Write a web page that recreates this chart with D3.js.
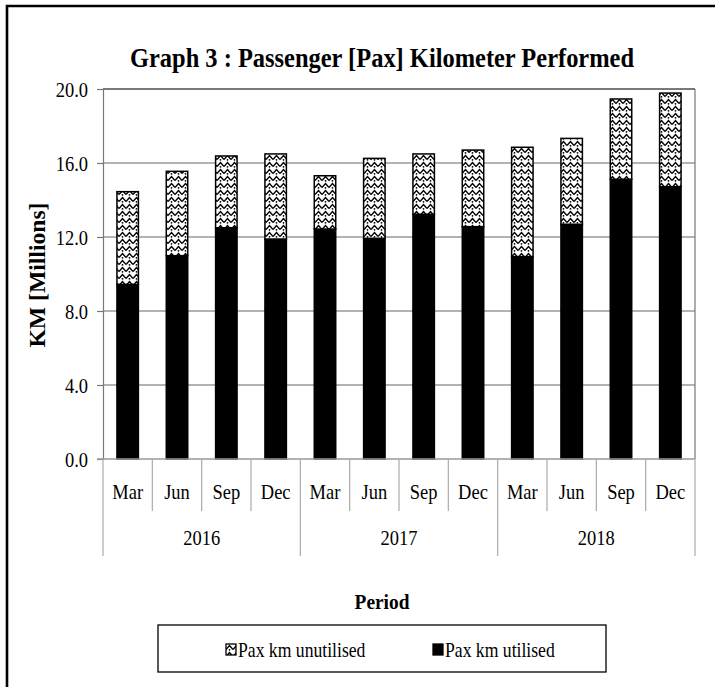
<!DOCTYPE html>
<html>
<head>
<meta charset="utf-8">
<script src="https://cdn.jsdelivr.net/npm/d3@7"></script>
<style>
  html, body { margin: 0; padding: 0; background: #fff; }
  svg { display: block; }
  text { font-family: "Liberation Serif", "Times New Roman", serif; fill: #000; }
</style>
</head>
<body>
<svg id="chart" width="715" height="687"></svg>
<script>
// ---- data ----
const months = ["Mar", "Jun", "Sep", "Dec", "Mar", "Jun", "Sep", "Dec", "Mar", "Jun", "Sep", "Dec"];
const years = ["2016", "2017", "2018"];
const paxUtilised = [9.44, 10.99, 12.50, 11.89, 12.43, 11.93, 13.23, 12.56, 10.94, 12.69, 15.12, 14.72];
const paxUnutilised = [5.01, 4.56, 3.88, 4.60, 2.88, 4.32, 3.26, 4.14, 5.91, 4.64, 4.34, 5.06];
const yTicks = [0, 4, 8, 12, 16, 20];
const seriesNames = ["Pax km utilised", "Pax km unutilised"];
const titleText = "Graph 3 : Passenger [Pax] Kilometer Performed";
const yTitle = "KM  [Millions]";
const xTitle = "Period";

// ---- layout ----
const svg = d3.select("#chart");
const W = 715, H = 687;
const plot = { left: 103, right: 695, top: 89, bottom: 459 };

// horizontal compression helper (reference uses a tall, narrow Times face)
function compress(sel, c) {
  sel.each(function () {
    const len = this.getComputedTextLength();
    d3.select(this).attr("textLength", len * c).attr("lengthAdjust", "spacingAndGlyphs");
  });
}

const rows = months.map((m, i) => ({ idx: i, month: m, year: years[Math.floor(i / 4)], utilised: paxUtilised[i], unutilised: paxUnutilised[i] }));

const x = d3.scaleBand().domain(rows.map(d => d.idx)).range([plot.left, plot.right]).paddingInner(0.565).paddingOuter(0.2825);
const y = d3.scaleLinear().domain([0, 20]).range([plot.bottom, plot.top]);

// pattern
const defs = svg.append("defs");
const pat = defs.append("pattern").attr("id", "wave").attr("patternUnits", "userSpaceOnUse")
  .attr("width", 7).attr("height", 7);
pat.append("rect").attr("width", 7).attr("height", 7).attr("fill", "#fff");
pat.append("path").attr("d", "M0,5.5 L3.5,1.5 L7,5.5").attr("fill", "none").attr("stroke", "#000").attr("stroke-width", 1.4);
pat.append("circle").attr("cx", 3.5).attr("cy", 5.8).attr("r", 0.9).attr("fill", "#000");

// outer frame (left & top visible)
svg.append("path").attr("d", `M7,${H} L7,6 L${W},6`).attr("fill", "none").attr("stroke", "#000").attr("stroke-width", 2.6);

// title
svg.append("text").attr("x", 382).attr("y", 67).attr("text-anchor", "middle")
  .attr("font-size", 28).attr("font-weight", "bold").text(titleText)
  .attr("textLength", 504).attr("lengthAdjust", "spacingAndGlyphs");

// gridlines
svg.append("g").selectAll("line").data(yTicks.filter(t => t > 0)).join("line")
  .attr("x1", plot.left).attr("x2", plot.right)
  .attr("y1", d => y(d)).attr("y2", d => y(d))
  .attr("stroke", "#9a9a9a").attr("stroke-width", 1.5);

// plot border right / top
svg.append("line").attr("x1", plot.right).attr("x2", plot.right).attr("y1", plot.top).attr("y2", plot.bottom)
  .attr("stroke", "#777").attr("stroke-width", 1.2);
svg.append("line").attr("x1", plot.left).attr("x2", plot.right).attr("y1", plot.top).attr("y2", plot.top)
  .attr("stroke", "#666").attr("stroke-width", 1.3);

// stacked bars
const stack = d3.stack().keys(["utilised", "unutilised"]);
const stacked = stack(rows);
const fills = { utilised: "#000", unutilised: "url(#wave)" };
svg.append("g").selectAll("g").data(stacked).join("g")
  .attr("fill", d => fills[d.key])
  .selectAll("rect").data(d => d).join("rect")
  .attr("x", d => x(d.data.idx))
  .attr("width", x.bandwidth())
  .attr("y", d => y(d[1]))
  .attr("height", d => y(d[0]) - y(d[1]))
  .attr("stroke", "#000").attr("stroke-width", 1.5);

// y axis
const yAxis = d3.axisLeft(y).tickValues(yTicks).tickFormat(d3.format(".1f")).tickSize(6).tickPadding(9);
const gy = svg.append("g").attr("transform", `translate(${plot.left},0)`).call(yAxis);
gy.select(".domain").attr("stroke", "#777").attr("stroke-width", 1.2);
gy.selectAll(".tick line").attr("stroke", "#777").attr("stroke-width", 1.2);
gy.selectAll(".tick text").attr("font-family", "Liberation Serif, serif").attr("font-size", 22).attr("fill", "#000")
  .call(compress, 0.84);

// bottom axis line
svg.append("line").attr("x1", plot.left - 6).attr("x2", plot.right).attr("y1", plot.bottom).attr("y2", plot.bottom)
  .attr("stroke", "#999").attr("stroke-width", 1.5);

// category separators
const step = x.step();
const x0 = plot.left;
svg.append("g").selectAll("line").data(d3.range(13)).join("line")
  .attr("x1", i => x0 + i * step).attr("x2", i => x0 + i * step)
  .attr("y1", plot.bottom).attr("y2", i => (i % 4 === 0 ? 556 : 511))
  .attr("stroke", "#aaa").attr("stroke-width", 1.2);

// month labels
svg.append("g").selectAll("text").data(rows).join("text")
  .attr("x", d => x(d.idx) + x.bandwidth() / 2).attr("y", 499)
  .attr("text-anchor", "middle").attr("font-size", 22).text(d => d.month)
  .call(compress, 0.84);

// year labels
svg.append("g").selectAll("text").data(years).join("text")
  .attr("x", (d, i) => x0 + (i * 4 + 2) * step).attr("y", 545)
  .attr("text-anchor", "middle").attr("font-size", 22).text(d => d)
  .call(compress, 0.84);

// y title
svg.append("text").attr("transform", "translate(45,275) rotate(-90)")
  .attr("text-anchor", "middle").attr("font-size", 23).attr("font-weight", "bold").text(yTitle)
  .attr("textLength", 145).attr("lengthAdjust", "spacingAndGlyphs");

// x title
svg.append("text").attr("x", 382).attr("y", 609).attr("text-anchor", "middle")
  .attr("font-size", 22).attr("font-weight", "bold").text(xTitle)
  .call(compress, 0.88);

// legend
const lg = svg.append("g");
lg.append("rect").attr("x", 158).attr("y", 625).attr("width", 448).attr("height", 47)
  .attr("fill", "#fff").attr("stroke", "#000").attr("stroke-width", 1.3);
const legendItems = [
  { name: seriesNames[1], fill: "url(#wave)", x: 226 },
  { name: seriesNames[0], fill: "#000", x: 433 }
];
const li = lg.selectAll("g.item").data(legendItems).join("g").attr("class", "item")
  .attr("transform", d => `translate(${d.x},644)`);
li.append("rect").attr("width", 10).attr("height", 11).attr("fill", d => d.fill)
  .attr("stroke", "#000").attr("stroke-width", 1.3);
li.append("text").attr("x", 12).attr("y", 13).attr("font-size", 21).text(d => d.name)
  .call(compress, 0.84);
</script>
</body>
</html>
